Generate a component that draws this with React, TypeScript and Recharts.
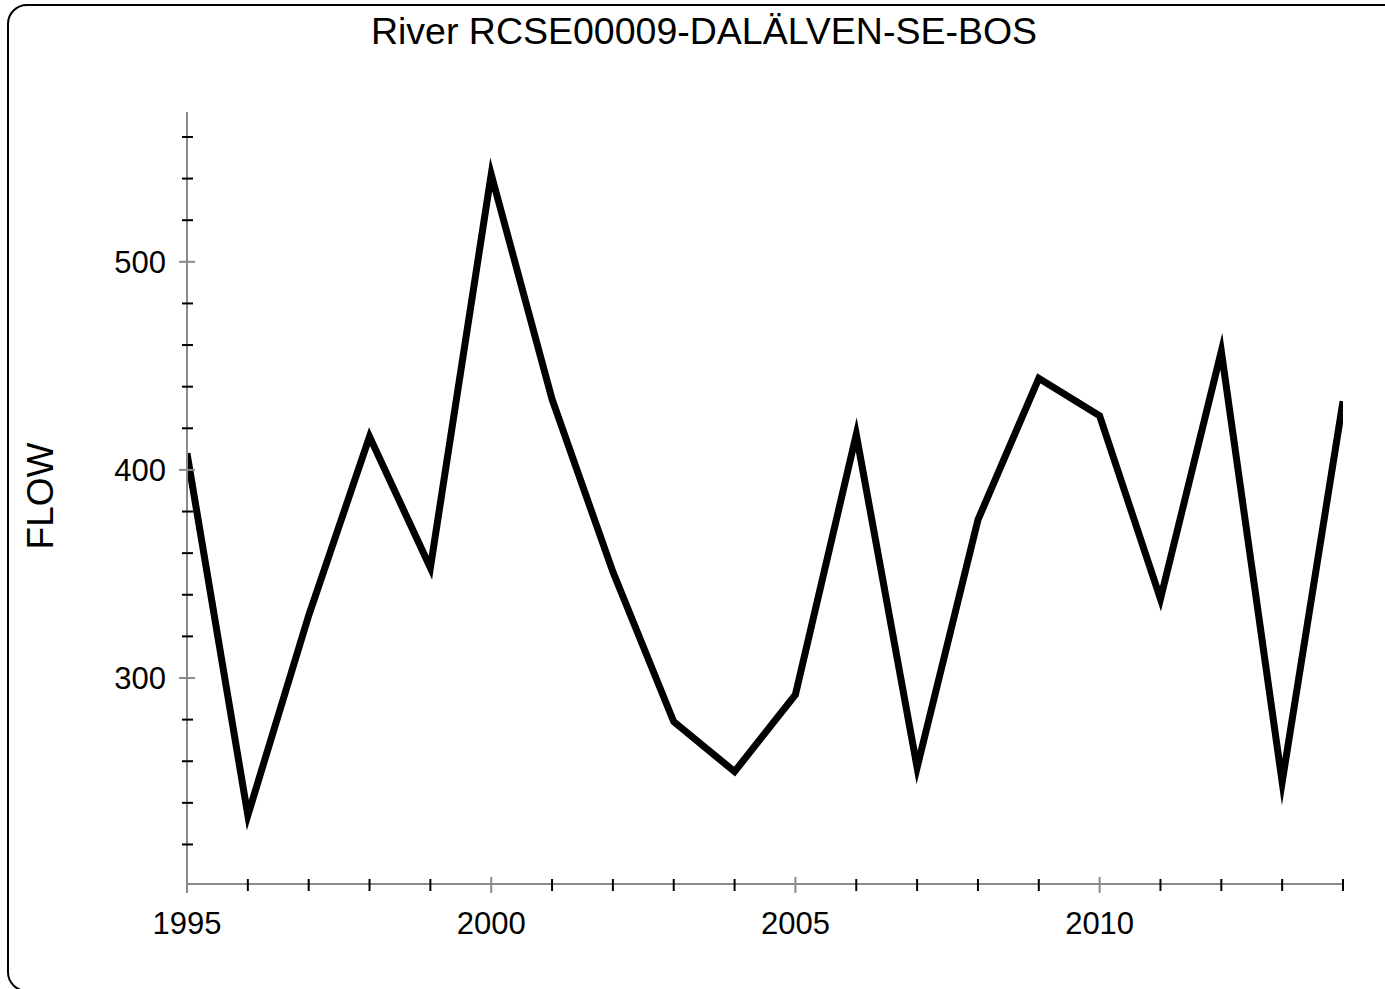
import React from "react";
import { LineChart, Line, XAxis, YAxis } from "recharts";

const years = [1995, 1996, 1997, 1998, 1999, 2000, 2001, 2002, 2003, 2004, 2005, 2006, 2007, 2008, 2009, 2010, 2011, 2012, 2013, 2014];
const flow = [408, 234, 330, 416, 353, 542, 434, 351, 279, 255, 292, 417, 257, 376, 444, 426, 338, 457, 250, 433];

const yTicks = [220, 240, 260, 280, 300, 320, 340, 360, 380, 400, 420, 440, 460, 480, 500, 520, 540, 560];
const yLabels = [300, 400, 500];
const xTicks = [1995, 1996, 1997, 1998, 1999, 2000, 2001, 2002, 2003, 2004, 2005, 2006, 2007, 2008, 2009, 2010, 2011, 2012, 2013, 2014];
const xLabels = [1995, 2000, 2005, 2010];

const data = years.map((year, i) => ({ year, flow: flow[i] }));

const GRAY = "#8a8a8a";
const FONT = "'Liberation Sans', Arial, sans-serif";

const YTick = (props: any) => {
  const { x, y, payload } = props;
  const major = yLabels.includes(payload.value);
  return (
    <g>
      <line
        x1={major ? x - 8 : x - 5}
        x2={major ? x + 8 : x + 6}
        y1={y}
        y2={y}
        stroke={major ? GRAY : "#000"}
        strokeWidth={2}
      />
      {major && (
        <text x={x - 21} y={y + 11} textAnchor="end" fontSize={31} fontFamily={FONT} fill="#000">
          {payload.value}
        </text>
      )}
    </g>
  );
};

const XTick = (props: any) => {
  const { x, y, payload } = props;
  const major = xLabels.includes(payload.value);
  return (
    <g>
      <line
        x1={x}
        x2={x}
        y1={major ? y - 7 : y - 5}
        y2={major ? y + 9 : y + 7}
        stroke={major ? GRAY : "#000"}
        strokeWidth={2}
      />
      {major && (
        <text x={x} y={y + 50} textAnchor="middle" fontSize={31} fontFamily={FONT} fill="#000">
          {payload.value}
        </text>
      )}
    </g>
  );
};

export default function App() {
  return (
    <div style={{ position: "relative", width: 1385, height: 989, overflow: "hidden", background: "#fff" }}>
      <style>{"body{margin:0;overflow:hidden}"}</style>
      <div
        style={{
          position: "absolute",
          left: 7,
          top: 4,
          width: 1400,
          height: 984,
          border: "2px solid #000",
          borderRadius: "20px 0 0 20px",
        }}
      />
      <div style={{ position: "absolute", left: 0, top: 0 }}>
        <LineChart width={1385} height={989} data={data} margin={{ top: 112, right: 42, bottom: 45, left: 87 }}>
          <XAxis
            dataKey="year"
            type="number"
            domain={[1995, 2014]}
            ticks={xTicks}
            interval={0}
            allowDataOverflow
            axisLine={{ stroke: GRAY, strokeWidth: 2 }}
            tickLine={false}
            tickSize={0}
            tickMargin={0}
            height={60}
            tick={<XTick />}
          />
          <YAxis
            type="number"
            domain={[201, 572]}
            ticks={yTicks}
            interval={0}
            allowDataOverflow
            axisLine={{ stroke: GRAY, strokeWidth: 2 }}
            tickLine={false}
            tickSize={0}
            tickMargin={0}
            width={100}
            tick={<YTick />}
          />
          <Line
            dataKey="flow"
            type="linear"
            stroke="#000"
            strokeWidth={7}
            strokeLinejoin="miter"
            strokeMiterlimit={10}
            dot={false}
            activeDot={false}
            isAnimationActive={false}
          />
        </LineChart>
      </div>
      <svg width={1385} height={989} style={{ position: "absolute", left: 0, top: 0, pointerEvents: "none" }}>
        <text x={704} y={44} textAnchor="middle" fontSize={37.5} fontFamily={FONT} fill="#000">
          River RCSE00009-DALÄLVEN-SE-BOS
        </text>
        <text
          x={53}
          y={496}
          textAnchor="middle"
          fontSize={37}
          fontFamily={FONT}
          fill="#000"
          transform="rotate(-90 53 496)"
        >
          FLOW
        </text>
      </svg>
    </div>
  );
}
